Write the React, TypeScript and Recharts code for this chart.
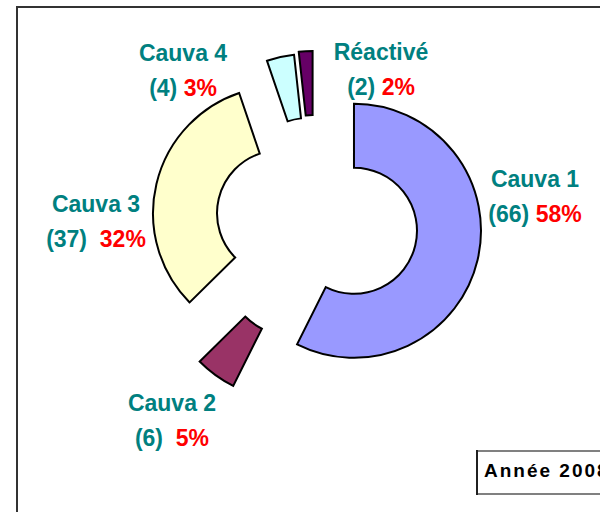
import React from 'react';
import { PieChart, Pie, Cell } from 'recharts';

const NAMES = ['Cauva 1', 'Cauva 2', 'Cauva 3', 'Cauva 4', 'Réactivé'];
const COUNTS = [66, 6, 37, 4, 2];
const PERCENT_LABELS = ['58%', '5%', '32%', '3%', '2%'];
const GAPS = [' ', '  ', '  ', ' ', ' '];
const COLORS = ['#9999FF', '#993366', '#FFFFCC', '#CCFFFF', '#660066'];
const EXPLODE = [38, 56, 38, 42, 44];
const NUDGE: [number, number][] = [[0, 0], [6, 5], [0, 0], [0, 0], [-2, 0]];
const LABEL_OFFSET: [number, number][] = [[218, -35], [-145, 189], [-221, -10], [-134, -161], [64, -162]];

const data = NAMES.map((name, i) => ({ name, value: COUNTS[i] }));

const W = 600;
const H = 512;
const CX = 317;
const CY = 222;
const INNER = 63;
const OUTER = 127;
const TEAL = '#008080';
const RED = '#FF0000';
const FONT = 'Arial, "Liberation Sans", sans-serif';

const total = COUNTS.reduce((a, b) => a + b, 0);
const offsets = COUNTS.map((v, i) => {
  const before = COUNTS.slice(0, i).reduce((a, b) => a + b, 0);
  const mid = ((before + v / 2) / total) * 2 * Math.PI;
  return {
    dx: EXPLODE[i] * Math.sin(mid) + NUDGE[i][0],
    dy: -EXPLODE[i] * Math.cos(mid) + NUDGE[i][1],
  };
});

const makeLabel = (i: number) => (props: any) => {
  const nm = props?.payload?.name ?? props?.name;
  if (props?.index !== undefined ? props.index !== i : nm !== NAMES[i]) return null;
  const x = CX + LABEL_OFFSET[i][0];
  const y = CY + LABEL_OFFSET[i][1];
  return (
    <g>
      <text x={x} y={y} textAnchor="middle" fontFamily={FONT} fontWeight="bold" fontSize={23} fill={TEAL}>
        {NAMES[i]}
      </text>
      <text x={x} y={y + 35} textAnchor="middle" fontFamily={FONT} fontWeight="bold" fontSize={23} xmlSpace="preserve" style={{ whiteSpace: 'pre' }}>
        <tspan fill={TEAL}>{`(${COUNTS[i]})${GAPS[i]}`}</tspan>
        <tspan fill={RED}>{PERCENT_LABELS[i]}</tspan>
      </text>
    </g>
  );
};

export default function App() {
  return (
    <div style={{ position: 'absolute', left: 0, top: 0, width: W, height: H, background: '#fff', overflow: 'hidden' }}>
      <PieChart width={W} height={H} margin={{ top: 0, right: 0, bottom: 0, left: 0 }}>
        <rect x={17} y={7} width={700} height={600} fill="#fff" stroke="#333" strokeWidth={2} />
        {data.map((_, i) => (
          <Pie
            key={NAMES[i]}
            data={data}
            dataKey="value"
            nameKey="name"
            cx={CX + offsets[i].dx}
            cy={CY + offsets[i].dy}
            innerRadius={INNER}
            outerRadius={OUTER}
            startAngle={90}
            endAngle={-270}
            isAnimationActive={false}
            labelLine={false}
            label={makeLabel(i)}
          >
            {data.map((d, j) => (
              <Cell
                key={d.name}
                fill={j === i ? COLORS[j] : 'none'}
                stroke={j === i ? '#000' : 'none'}
                strokeWidth={j === i ? 2 : 0}
              />
            ))}
          </Pie>
        ))}
        <rect x={477} y={451} width={140} height={43} fill="#fff" stroke="#808080" strokeWidth={2} />
        <line x1={477} y1={450} x2={477} y2={495} stroke="#000" strokeWidth={1.5} />
        <text x={484} y={477} fontFamily={FONT} fontWeight="bold" fontSize={19} letterSpacing={2} fill="#000">
          Année 2008
        </text>
      </PieChart>
    </div>
  );
}
